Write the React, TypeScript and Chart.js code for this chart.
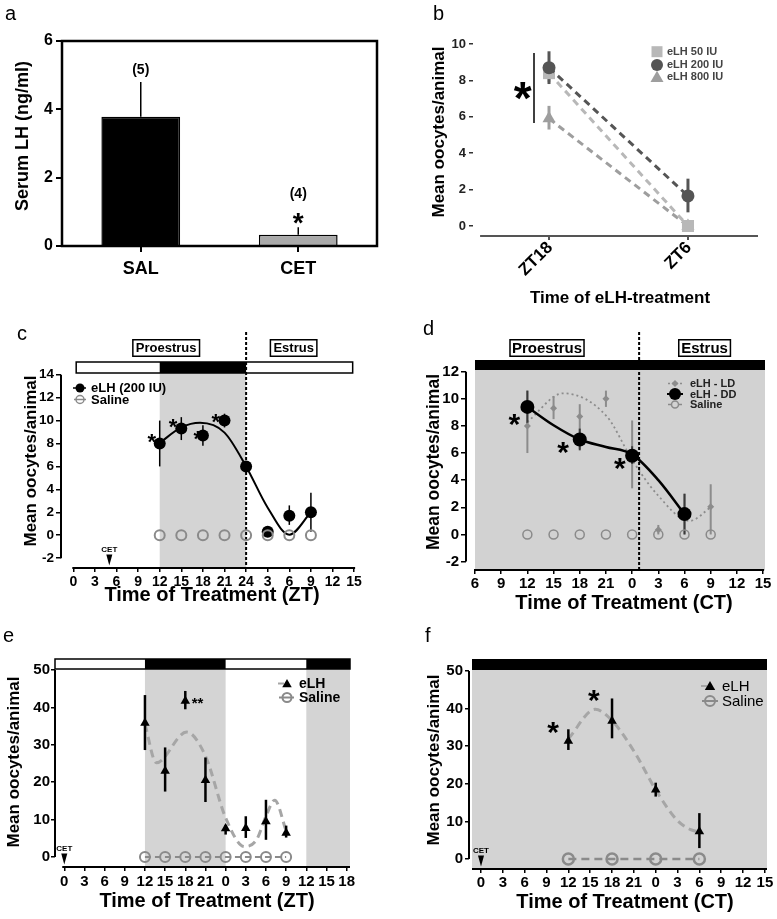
import React, { useEffect, useRef } from 'react';
import { Chart, registerables } from 'chart.js';

Chart.register(...registerables);

const FONT = '"Liberation Sans", Arial, Helvetica, sans-serif';
Chart.defaults.font.family = FONT;
const W = 777;
const H = 919;

// ================= DATA =================
// Panel a – serum LH
const A_CATEGORIES = ['SAL', 'CET'];
const A_VALUES = [3.78, 0.33];
const A_ERR_HIGH = [4.8, 0.55];
const A_N_LABELS = ['(5)', '(4)'];
const A_N_LABEL_Y = [5.15, 1.52];
const A_STAR_Y = 0.88;
const A_Y_TICKS = [0, 2, 4, 6];

// Panel b – dose response
const B_CATEGORIES = ['ZT18', 'ZT6'];
const B_POS = [0, 1];
const B_Y_TICKS = [0, 2, 4, 6, 8, 10];
const B_50 = [8.4, 0];
const B_50_LO = [7.9, 0];
const B_50_HI = [8.9, 0];
const B_200 = [8.7, 1.65];
const B_200_LO = [7.8, 0.75];
const B_200_HI = [9.6, 2.6];
const B_800 = [5.9, 0];
const B_800_LO = [5.3, 0];
const B_800_HI = [6.6, 0];
const B_LEGEND = ['eLH 50 IU', 'eLH 200 IU', 'eLH 800 IU'];
const B_STAR = { x: -0.19, y: 7.6 };
const B_BRACKET = { x: -0.108, y1: 9.5, y2: 5.66 };

// Panel c – ZT, eLH 200 IU
const C_X_TICKS = [0, 3, 6, 9, 12, 15, 18, 21, 24, 27, 30, 33, 36, 39];
const C_X_LABELS = ['0', '3', '6', '9', '12', '15', '18', '21', '24', '3', '6', '9', '12', '15'];
const C_Y_TICKS = [-2, 0, 2, 4, 6, 8, 10, 12, 14];
const C_X = [12, 15, 18, 21, 24, 27, 30, 33];
const C_ELH = [8, 9.3, 8.7, 10, 6, 0.3, 1.7, 2];
const C_ELH_LO = [6, 8.3, 7.8, 9.4, 6, 0.1, 0.9, 0.3];
const C_ELH_HI = [10, 10.3, 9.6, 10.6, 6, 0.5, 2.6, 3.7];
const C_SALINE = [0, 0, 0, 0, 0, 0, 0, 0];
const C_FIT_X = [12, 15, 17.6, 21, 24, 27, 30, 33];
const C_FIT_Y = [8.05, 9.4, 9.8, 8.95, 6.0, 2.4, 0.05, 2.0];
const C_STAR_X = [10.9, 13.85, 17.3, 19.8];
const C_STAR_Y = [8.6, 9.9, 8.9, 10.4];
const C_DARK = [12, 24];
const C_BAR = [0.4, 38.8];
const C_PHASE_X = [12.9, 30.6];
const C_DIVIDER = 24;
const C_CET_X = 5;

// Panel d – CT, LD vs DD
const D_X_TICKS = [6, 9, 12, 15, 18, 21, 24, 27, 30, 33, 36, 39];
const D_X_LABELS = ['6', '9', '12', '15', '18', '21', '0', '3', '6', '9', '12', '15'];
const D_Y_TICKS = [-2, 0, 2, 4, 6, 8, 10, 12];
const D_X = [12, 15, 18, 21, 24, 27, 30, 33];
const D_LD = [8, 9.3, 8.7, 10, 5.9, 0.35, 1.6, 2.05];
const D_LD_LO = [6, 8.5, 6.3, 9.4, 3.4, 0, 0, 0];
const D_LD_HI = [10.6, 10.2, 9.6, 10.6, 8.4, 0.7, 3, 3.7];
const D_DD_X = [12, 18, 24, 30];
const D_DD = [9.4, 7, 5.8, 1.5];
const D_DD_LO = [8.2, 6.2, 5.2, 0];
const D_DD_HI = [10.6, 7.8, 6.5, 3];
const D_SALINE = [0, 0, 0, 0, 0, 0, 0, 0];
const D_LD_FIT_X = [12, 16.1, 21.1, 24, 26.8, 30.6, 33];
const D_LD_FIT_Y = [8.3, 10.4, 8.7, 5.5, 3.0, 1.0, 2.0];
const D_DD_FIT_X = [12, 15, 18, 21, 24, 27, 30];
const D_DD_FIT_Y = [9.4, 8.05, 7.0, 6.45, 5.9, 4.0, 1.5];
const D_STAR_X = [10.5, 16.1, 22.6];
const D_STAR_Y = [8.7, 6.6, 5.45];
const D_PHASE_X = [14.25, 32.3];
const D_DIVIDER = 24.8;

// Panel e – ZT, triangles
const E_X_TICKS = [0, 3, 6, 9, 12, 15, 18, 21, 24, 27, 30, 33, 36, 39, 42];
const E_X_LABELS = ['0', '3', '6', '9', '12', '15', '18', '21', '0', '3', '6', '9', '12', '15', '18'];
const E_Y_TICKS = [0, 10, 20, 30, 40, 50];
const E_X = [12, 15, 18, 21, 24, 27, 30, 33];
const E_ELH = [35.8, 23, 41.7, 20.5, 7.6, 7.7, 9.5, 6.4];
const E_ELH_LO = [28.6, 17.5, 39.5, 14.7, 6, 5.1, 4.6, 5.2];
const E_ELH_HI = [43.3, 29.3, 44.4, 26.6, 8.6, 10.9, 15.3, 8.4];
const E_SALINE = [0, 0, 0, 0, 0, 0, 0, 0];
const E_FIT_X = [12, 13.7, 18.2, 21, 24, 26.8, 28.6, 30, 31.3, 33];
const E_FIT_Y = [35.5, 25.2, 33.4, 27, 10.5, 2.8, 4.6, 10.9, 15.2, 7];
const E_DARK = [[12, 24], [36, 42.5]];
const E_STAR = { x: 18.95, y: 42.0 };
const E_CET_X = 0;

// Panel f – CT, triangles
const F_X_TICKS = [0, 3, 6, 9, 12, 15, 18, 21, 24, 27, 30, 33, 36, 39];
const F_X_LABELS = ['0', '3', '6', '9', '12', '15', '18', '21', '0', '3', '6', '9', '12', '15'];
const F_Y_TICKS = [0, 10, 20, 30, 40, 50];
const F_X = [12, 18, 24, 30];
const F_ELH = [31.4, 36.7, 18.4, 7.3];
const F_ELH_LO = [29, 32.1, 16.6, 2.9];
const F_ELH_HI = [34.5, 42.7, 20.3, 12.2];
const F_SALINE = [0, 0, 0, 0];
const F_FIT_X = [12, 15.7, 18, 21.2, 24, 26.9, 28.8, 30];
const F_FIT_Y = [32, 39.8, 36.8, 28.1, 18.4, 10.4, 7.8, 7.2];
const F_STAR_X = [9.9, 15.5];
const F_STAR_Y = [35.6, 44.1];
const F_CET_X = 0;

// ================= HELPERS =================
function seg(ctx: any, x1: number, y1: number, x2: number, y2: number, color = '#000', width = 1.5, dash: number[] = []) {
  ctx.save();
  ctx.strokeStyle = color;
  ctx.lineWidth = width;
  ctx.setLineDash(dash);
  ctx.beginPath();
  ctx.moveTo(x1, y1);
  ctx.lineTo(x2, y2);
  ctx.stroke();
  ctx.restore();
}

function box(ctx: any, x1: number, y1: number, x2: number, y2: number, fill?: string, stroke?: string, lw = 1.5) {
  ctx.save();
  if (fill) {
    ctx.fillStyle = fill;
    ctx.fillRect(x1, y1, x2 - x1, y2 - y1);
  }
  if (stroke) {
    ctx.strokeStyle = stroke;
    ctx.lineWidth = lw;
    ctx.strokeRect(x1, y1, x2 - x1, y2 - y1);
  }
  ctx.restore();
}

function txt(ctx: any, s: string, x: number, y: number, size: number, o: any = {}) {
  ctx.save();
  ctx.font = `${o.weight ?? 'bold'} ${size}px ${FONT}`;
  ctx.fillStyle = o.color ?? '#000';
  ctx.textAlign = o.align ?? 'center';
  ctx.textBaseline = o.baseline ?? 'middle';
  ctx.translate(x, y);
  if (o.rot) ctx.rotate(o.rot);
  ctx.fillText(s, 0, 0);
  ctx.restore();
}

function star(ctx: any, s: string, x: number, y: number, size: number, align = 'center') {
  txt(ctx, s, x, y + size * 0.57, size, { baseline: 'alphabetic', align });
}

function letter(ctx: any, s: string, x: number, y: number) {
  txt(ctx, s, x, y, 20, { weight: 'normal', align: 'left', baseline: 'alphabetic' });
}

function marker(ctx: any, style: string, x: number, y: number, r: number, fill?: string, stroke?: string, lw = 1.5) {
  ctx.save();
  ctx.beginPath();
  if (style === 'circle') ctx.arc(x, y, r, 0, Math.PI * 2);
  else if (style === 'rect') ctx.rect(x - r, y - r, 2 * r, 2 * r);
  else if (style === 'diamond') {
    ctx.moveTo(x, y - r); ctx.lineTo(x + r, y); ctx.lineTo(x, y + r); ctx.lineTo(x - r, y); ctx.closePath();
  } else if (style === 'triangle') {
    ctx.moveTo(x, y - r); ctx.lineTo(x + r * 0.866, y + r / 2); ctx.lineTo(x - r * 0.866, y + r / 2); ctx.closePath();
  } else if (style === 'down') {
    ctx.moveTo(x - r * 0.55, y - r); ctx.lineTo(x + r * 0.55, y - r); ctx.lineTo(x, y + r); ctx.closePath();
  }
  if (fill) { ctx.fillStyle = fill; ctx.fill(); }
  if (stroke) { ctx.strokeStyle = stroke; ctx.lineWidth = lw; ctx.stroke(); }
  ctx.restore();
}

function phaseBox(ctx: any, label: string, cx: number, cy: number, size: number, padX: number, h: number) {
  ctx.save();
  ctx.font = `bold ${size}px ${FONT}`;
  const w = ctx.measureText(label).width + 2 * padX;
  ctx.restore();
  box(ctx, cx - w / 2, cy - h / 2, cx + w / 2, cy + h / 2, '#fff', '#000', 1.5);
  txt(ctx, label, cx, cy + 0.5, size);
}

function errBars(chart: any, xs: number[], lo: number[], hi: number[], color: string, width: number) {
  const { ctx } = chart;
  const sx = chart.scales.x;
  const sy = chart.scales.y;
  xs.forEach((xv, i) => {
    if (lo[i] === hi[i]) return;
    const px = sx.getPixelForValue(xv);
    seg(ctx, px, sy.getPixelForValue(lo[i]), px, sy.getPixelForValue(hi[i]), color, width);
  });
}

function cet(chart: any, xv: number, area: any) {
  const { ctx } = chart;
  const px = chart.scales.x.getPixelForValue(xv);
  txt(ctx, 'CET', px, area.b - 18, 8);
  marker(ctx, 'down', px, area.b - 8, 5.5, '#000');
}

type Area = { l: number; t: number; r: number; b: number };

function linAxis(kind: 'x' | 'y', area: Area, o: any) {
  return {
    type: 'linear',
    position: kind === 'x' ? 'bottom' : 'left',
    bounds: 'data',
    min: o.min,
    max: o.max,
    afterFit: (s: any) => {
      if (kind === 'x') s.height = H - area.b;
      else s.width = area.l;
    },
    afterBuildTicks: (s: any) => {
      s.ticks = o.ticks.map((v: number) => ({ value: v }));
    },
    grid: {
      display: true,
      drawOnChartArea: false,
      drawTicks: true,
      tickLength: o.tickLen ?? 5,
      color: o.tickColor ?? '#000',
      lineWidth: o.tickWidth ?? 1.5,
    },
    border: { display: false },
    ticks: {
      display: o.showLabels ?? true,
      autoSkip: false,
      maxRotation: 0,
      minRotation: 0,
      padding: o.pad ?? 2,
      color: o.color ?? '#000',
      font: { family: FONT, weight: 'bold', size: o.size ?? 14 },
      callback: (_v: any, i: number) => (o.labels ? o.labels[i] : String(o.ticks[i])),
    },
  };
}

function baseOpts(area: Area, scales: any) {
  return {
    responsive: false,
    animation: false,
    devicePixelRatio: 1,
    events: [],
    layout: { padding: { left: 0, top: area.t, right: W - area.r, bottom: 0 } },
    plugins: { legend: { display: false }, tooltip: { enabled: false }, title: { display: false } },
    scales,
  };
}

function pointsDs(xs: number[], ys: number[], o: any) {
  return {
    data: xs.map((x, i) => ({ x, y: ys[i] })),
    showLine: !!o.line,
    borderColor: o.lineColor ?? o.stroke ?? o.fill,
    borderWidth: o.lineWidth ?? 2,
    borderDash: o.dash ?? [],
    pointStyle: o.style ?? 'circle',
    pointRadius: o.r,
    pointRotation: o.rot ?? 0,
    pointBackgroundColor: o.fill ?? 'rgba(0,0,0,0)',
    pointBorderColor: o.stroke ?? o.fill,
    pointBorderWidth: o.lw ?? 0,
    clip: false,
    tension: 0,
  };
}

function curveDs(xs: number[], ys: number[], o: any) {
  return {
    data: xs.map((x, i) => ({ x, y: ys[i] })),
    showLine: true,
    pointRadius: 0,
    borderColor: o.color,
    borderWidth: o.width,
    borderDash: o.dash ?? [],
    cubicInterpolationMode: 'monotone',
    fill: false,
    clip: false,
  };
}

// ================= PANELS =================
function makeA() {
  const area = { l: 62, t: 41, r: 377, b: 246 };
  return {
    type: 'bar',
    data: {
      labels: A_CATEGORIES,
      datasets: [
        {
          data: A_VALUES,
          backgroundColor: ['#000000', '#a9a9a9'],
          borderColor: '#000',
          borderWidth: 1.5,
          barPercentage: 0.5,
          categoryPercentage: 1,
        },
      ],
    },
    options: baseOpts(area, {
      x: {
        type: 'category',
        offset: true,
        afterFit: (s: any) => { s.height = H - area.b; },
        grid: { display: true, offset: false, drawOnChartArea: false, tickLength: 6, color: '#000', lineWidth: 2 },
        border: { display: false },
        ticks: { padding: 6, color: '#000', font: { family: FONT, weight: 'bold', size: 18 } },
      },
      y: linAxis('y', area, { min: 0, max: 6, ticks: A_Y_TICKS, size: 16, tickLen: 6, pad: 3, tickWidth: 2 }),
    }),
    plugins: [
      {
        id: 'panelA',
        afterDatasetsDraw(chart: any) {
          const { ctx } = chart;
          const sx = chart.scales.x;
          const sy = chart.scales.y;
          box(ctx, area.l, area.t, area.r, area.b, undefined, '#000', 2.5);
          A_VALUES.forEach((v, i) => {
            const px = sx.getPixelForValue(i);
            seg(ctx, px, sy.getPixelForValue(v), px, sy.getPixelForValue(A_ERR_HIGH[i]), '#000', 1.5);
            txt(ctx, A_N_LABELS[i], px, sy.getPixelForValue(A_N_LABEL_Y[i]), 14);
          });
          star(ctx, '*', sx.getPixelForValue(1), sy.getPixelForValue(A_STAR_Y), 28);
          txt(ctx, 'Serum LH (ng/ml)', 23, 136, 18, { rot: -Math.PI / 2 });
          letter(ctx, 'a', 5, 20);
        },
      },
    ],
  };
}

function makeB() {
  const area = { l: 473, t: 44, r: 758, b: 236 };
  const dash = [7, 5];
  return {
    type: 'scatter',
    data: {
      datasets: [
        pointsDs(B_POS, B_200, { r: 6.5, fill: '#555555', line: true, lineColor: '#555555', lineWidth: 3, dash }),
        pointsDs(B_POS, B_50, { style: 'rect', r: 8.5, fill: '#b8b8b8', line: true, lineColor: '#b8b8b8', lineWidth: 3, dash }),
        pointsDs(B_POS, B_800, { style: 'triangle', r: 7.5, fill: '#9e9e9e', line: true, lineColor: '#9e9e9e', lineWidth: 3, dash }),
      ],
    },
    options: baseOpts(area, {
      x: linAxis('x', area, { min: -0.547, max: 1.504, ticks: B_POS, showLabels: false, tickColor: '#555', tickWidth: 2, tickLen: 4 }),
      y: linAxis('y', area, { min: -0.55, max: 10, ticks: B_Y_TICKS, size: 13, tickLen: 4, pad: 3, color: '#222', tickColor: '#333' }),
    }),
    plugins: [
      {
        id: 'panelB',
        beforeDatasetsDraw(chart: any) {
          errBars(chart, B_POS, B_800_LO, B_800_HI, '#9e9e9e', 3);
          errBars(chart, B_POS, B_50_LO, B_50_HI, '#b8b8b8', 3);
          errBars(chart, B_POS, B_200_LO, B_200_HI, '#555555', 3);
        },
        afterDatasetsDraw(chart: any) {
          const { ctx } = chart;
          const X = (v: number) => chart.scales.x.getPixelForValue(v);
          const Y = (v: number) => chart.scales.y.getPixelForValue(v);
          seg(ctx, X(-0.496), area.b, area.r, area.b, '#555', 2);
          B_CATEGORIES.forEach((c, i) => {
            txt(ctx, c, X(B_POS[i]) + 1, area.b + 9, 17, { align: 'right', rot: -Math.PI / 4 });
          });
          star(ctx, '*', X(B_STAR.x), Y(B_STAR.y), 46);
          seg(ctx, X(B_BRACKET.x), Y(B_BRACKET.y1), X(B_BRACKET.x), Y(B_BRACKET.y2), '#000', 1.5);
          // legend
          const rows = [51.7, 65, 77.3];
          marker(ctx, 'rect', 657, rows[0], 5.5, '#b8b8b8');
          marker(ctx, 'circle', 657, rows[1], 6, '#555555');
          marker(ctx, 'triangle', 657, rows[2] + 1, 7.5, '#9e9e9e');
          B_LEGEND.forEach((s, i) => txt(ctx, s, 667, rows[i], 11, { align: 'left', color: '#444' }));
          txt(ctx, 'Mean oocytes/animal', 439, 132, 17, { rot: -Math.PI / 2 });
          txt(ctx, 'Time of eLH-treatment', 620, 298, 17);
          letter(ctx, 'b', 433, 20);
        },
      },
    ],
  };
}

function makeC() {
  const area = { l: 61, t: 373, r: 358, b: 568 };
  return {
    type: 'scatter',
    data: {
      datasets: [
        pointsDs(C_X, C_SALINE, { r: 5, stroke: '#8a8a8a', lw: 2 }),
        pointsDs(C_X, C_ELH, { r: 6, fill: '#000' }),
        curveDs(C_FIT_X, C_FIT_Y, { color: '#000', width: 2 }),
      ],
    },
    options: baseOpts(area, {
      x: linAxis('x', area, { min: -1.71, max: 39.54, ticks: C_X_TICKS, labels: C_X_LABELS, size: 14, pad: 2, tickLen: 4 }),
      y: linAxis('y', area, { min: -2.86, max: 14.15, ticks: C_Y_TICKS, size: 13.5, pad: 2, tickLen: 5 }),
    }),
    plugins: [
      {
        id: 'panelC',
        beforeDatasetsDraw(chart: any) {
          const { ctx } = chart;
          const X = (v: number) => chart.scales.x.getPixelForValue(v);
          const Y = (v: number) => chart.scales.y.getPixelForValue(v);
          box(ctx, X(C_DARK[0]), area.t, X(C_DARK[1]), area.b, '#d4d4d4');
          box(ctx, X(C_BAR[0]), 362, X(C_BAR[1]), area.t, '#fff', '#000', 1.5);
          box(ctx, X(C_DARK[0]), 362, X(C_DARK[1]), area.t, '#000');
          phaseBox(ctx, 'Proestrus', X(C_PHASE_X[0]), 348, 13, 3, 16.5);
          phaseBox(ctx, 'Estrus', X(C_PHASE_X[1]), 348, 13, 3, 16.5);
          seg(ctx, X(C_DIVIDER), 332, X(C_DIVIDER), area.b, '#000', 2, [3, 2]);
          seg(ctx, area.l, Y(14), area.l, Y(-2), '#000', 2);
          seg(ctx, X(0) - 1, area.b, X(39) + 1, area.b, '#000', 2);
        },
        afterDatasetDraw(chart: any, args: any) {
          if (args.index === 2) errBars(chart, C_X, C_ELH_LO, C_ELH_HI, '#000', 1.5);
        },
        afterDatasetsDraw(chart: any) {
          const { ctx } = chart;
          const X = (v: number) => chart.scales.x.getPixelForValue(v);
          const Y = (v: number) => chart.scales.y.getPixelForValue(v);
          C_STAR_X.forEach((sx, i) => star(ctx, '*', X(sx), Y(C_STAR_Y[i]), 22));
          // legend
          seg(ctx, 73, 388, 86, 388, '#000', 1.5);
          marker(ctx, 'circle', 80, 388, 4.5, '#000');
          txt(ctx, 'eLH (200 IU)', 91, 388.5, 13, { align: 'left' });
          seg(ctx, 74, 399.5, 86, 399.5, '#8a8a8a', 1.5);
          marker(ctx, 'circle', 80, 399.5, 4, undefined, '#8a8a8a', 1.5);
          txt(ctx, 'Saline', 91, 400, 13, { align: 'left' });
          cet(chart, C_CET_X, area);
          txt(ctx, 'Mean oocytes/animal', 31, 461, 17, { rot: -Math.PI / 2 });
          txt(ctx, 'Time of Treatment (ZT)', 212, 595, 20);
          letter(ctx, 'c', 17, 340);
        },
      },
    ],
  };
}

function makeD() {
  const area = { l: 466, t: 370, r: 765, b: 570 };
  return {
    type: 'scatter',
    data: {
      datasets: [
        pointsDs(D_X, D_SALINE, { r: 4.5, stroke: '#8a8a8a', lw: 1.5 }),
        pointsDs(D_DD_X, D_DD, { r: 7, fill: '#000' }),
        pointsDs(D_X, D_LD, { style: 'rectRot', r: 3.5, fill: '#8c8c8c' }),
        curveDs(D_DD_FIT_X, D_DD_FIT_Y, { color: '#000', width: 2.5 }),
        curveDs(D_LD_FIT_X, D_LD_FIT_Y, { color: '#8c8c8c', width: 1.8, dash: [2, 3] }),
      ],
    },
    options: baseOpts(area, {
      x: linAxis('x', area, { min: 4.97, max: 39.22, ticks: D_X_TICKS, labels: D_X_LABELS, size: 15, pad: 1, tickLen: 4 }),
      y: linAxis('y', area, { min: -2.62, max: 12.12, ticks: D_Y_TICKS, size: 15, pad: 2, tickLen: 5 }),
    }),
    plugins: [
      {
        id: 'panelD',
        beforeDatasetsDraw(chart: any) {
          const { ctx } = chart;
          const X = (v: number) => chart.scales.x.getPixelForValue(v);
          const Y = (v: number) => chart.scales.y.getPixelForValue(v);
          box(ctx, X(6), area.t, area.r, area.b, '#d2d2d2');
          box(ctx, X(6), 360, area.r, area.t, '#000');
          phaseBox(ctx, 'Proestrus', X(D_PHASE_X[0]), 348, 15, 2, 16.5);
          phaseBox(ctx, 'Estrus', X(D_PHASE_X[1]), 348, 15, 2.5, 16.5);
          seg(ctx, X(D_DIVIDER), 332, X(D_DIVIDER), area.b, '#000', 2, [3, 2]);
          seg(ctx, area.l, Y(12), area.l, Y(-2), '#000', 2);
          seg(ctx, X(6) - 1, area.b, X(39) + 1, area.b, '#000', 2);
        },
        afterDatasetDraw(chart: any, args: any) {
          if (args.index === 3) {
            errBars(chart, D_X, D_LD_LO, D_LD_HI, '#8c8c8c', 2);
            errBars(chart, D_DD_X, D_DD_LO, D_DD_HI, '#3a3a3a', 2);
          }
        },
        afterDatasetsDraw(chart: any) {
          const { ctx } = chart;
          const X = (v: number) => chart.scales.x.getPixelForValue(v);
          const Y = (v: number) => chart.scales.y.getPixelForValue(v);
          D_STAR_X.forEach((sx, i) => star(ctx, '*', X(sx), Y(D_STAR_Y[i]), 30));
          // legend
          seg(ctx, 668, 383.5, 682, 383.5, '#8c8c8c', 1.5, [2, 2]);
          marker(ctx, 'diamond', 675, 383.5, 3.5, '#8c8c8c');
          txt(ctx, 'eLH - LD', 690, 384, 11, { align: 'left', color: '#222' });
          seg(ctx, 667, 394, 683, 394, '#000', 2);
          marker(ctx, 'circle', 675, 394, 6, '#000');
          txt(ctx, 'eLH - DD', 690, 394.5, 11, { align: 'left', color: '#222' });
          seg(ctx, 668, 404.5, 682, 404.5, '#8a8a8a', 1.5);
          marker(ctx, 'circle', 675, 404.5, 3.5, '#d2d2d2', '#8a8a8a', 1.5);
          txt(ctx, 'Saline', 690, 405, 11, { align: 'left', color: '#222' });
          txt(ctx, 'Mean oocytes/animal', 434, 462, 17.5, { rot: -Math.PI / 2 });
          txt(ctx, 'Time of Treatment (CT)', 624, 603, 20);
          letter(ctx, 'd', 423, 335);
        },
      },
    ],
  };
}

function makeE() {
  const area = { l: 55, t: 669, r: 350, b: 867 };
  return {
    type: 'scatter',
    data: {
      datasets: [
        pointsDs(E_X, E_SALINE, { r: 5, stroke: '#8a8a8a', lw: 2, line: true, lineColor: '#8a8a8a', lineWidth: 2, dash: [6, 4] }),
        pointsDs(E_X, E_ELH, { style: 'triangle', r: 5.5, fill: '#000' }),
        curveDs(E_FIT_X, E_FIT_Y, { color: '#a6a6a6', width: 3, dash: [8, 5] }),
      ],
    },
    options: baseOpts(area, {
      x: linAxis('x', area, { min: -1.38, max: 42.5, ticks: E_X_TICKS, labels: E_X_LABELS, size: 15, pad: 2, tickLen: 4 }),
      y: linAxis('y', area, { min: -2.67, max: 50.27, ticks: E_Y_TICKS, size: 15, pad: 1, tickLen: 4 }),
    }),
    plugins: [
      {
        id: 'panelE',
        beforeDatasetsDraw(chart: any) {
          const { ctx } = chart;
          const X = (v: number) => Math.min(chart.scales.x.getPixelForValue(v), area.r);
          const Y = (v: number) => chart.scales.y.getPixelForValue(v);
          E_DARK.forEach(([a, b]) => box(ctx, X(a), area.t, X(b), area.b, '#d4d4d4'));
          box(ctx, area.l, 659, area.r, area.t, '#fff', '#000', 1.5);
          E_DARK.forEach(([a, b]) => box(ctx, X(a), 659, X(b), area.t, '#000'));
          seg(ctx, area.l, Y(50), area.l, Y(0), '#000', 2);
          seg(ctx, X(-0.3), area.b, area.r, area.b, '#000', 2);
        },
        afterDatasetDraw(chart: any, args: any) {
          if (args.index === 2) errBars(chart, E_X, E_ELH_LO, E_ELH_HI, '#000', 2.5);
        },
        afterDatasetsDraw(chart: any) {
          const { ctx } = chart;
          const X = (v: number) => chart.scales.x.getPixelForValue(v);
          const Y = (v: number) => chart.scales.y.getPixelForValue(v);
          star(ctx, '**', X(E_STAR.x), Y(E_STAR.y), 15, 'left');
          // legend
          seg(ctx, 278, 683.5, 284, 683.5, '#a6a6a6', 2);
          marker(ctx, 'triangle', 287, 684.5, 5.5, '#000');
          txt(ctx, 'eLH', 299, 684, 14, { align: 'left' });
          seg(ctx, 279, 697.5, 294, 697.5, '#8a8a8a', 2);
          marker(ctx, 'circle', 287, 697.5, 4.5, undefined, '#8a8a8a', 2);
          txt(ctx, 'Saline', 299, 698, 14, { align: 'left' });
          cet(chart, E_CET_X, area);
          txt(ctx, 'Mean oocytes/animal', 14, 762, 17, { rot: -Math.PI / 2 });
          txt(ctx, 'Time of Treatment (ZT)', 207, 901, 20);
          letter(ctx, 'e', 3, 642);
        },
      },
    ],
  };
}

function makeF() {
  const area = { l: 469, t: 670, r: 767, b: 869 };
  return {
    type: 'scatter',
    data: {
      datasets: [
        pointsDs(F_X, F_SALINE, { r: 5.5, stroke: '#8a8a8a', lw: 2.5, line: true, lineColor: '#8a8a8a', lineWidth: 2.5, dash: [8, 5] }),
        pointsDs(F_X, F_ELH, { style: 'triangle', r: 5.5, fill: '#000' }),
        curveDs(F_FIT_X, F_FIT_Y, { color: '#a6a6a6', width: 3, dash: [8, 5] }),
      ],
    },
    options: baseOpts(area, {
      x: linAxis('x', area, { min: -1.65, max: 39.29, ticks: F_X_TICKS, labels: F_X_LABELS, size: 15, pad: 1, tickLen: 4 }),
      y: linAxis('y', area, { min: -2.66, max: 50.27, ticks: F_Y_TICKS, size: 15, pad: 2, tickLen: 4 }),
    }),
    plugins: [
      {
        id: 'panelF',
        beforeDatasetsDraw(chart: any) {
          const { ctx } = chart;
          const Y = (v: number) => chart.scales.y.getPixelForValue(v);
          box(ctx, area.l + 3, area.t, area.r, area.b, '#d3d3d3');
          box(ctx, area.l + 3, 659, area.r, area.t, '#000');
          seg(ctx, area.l, Y(50), area.l, Y(0), '#000', 2);
          seg(ctx, area.l + 3, area.b, area.r, area.b, '#000', 2);
        },
        afterDatasetDraw(chart: any, args: any) {
          if (args.index === 2) errBars(chart, F_X, F_ELH_LO, F_ELH_HI, '#000', 2.5);
        },
        afterDatasetsDraw(chart: any) {
          const { ctx } = chart;
          const X = (v: number) => chart.scales.x.getPixelForValue(v);
          const Y = (v: number) => chart.scales.y.getPixelForValue(v);
          F_STAR_X.forEach((sx, i) => star(ctx, '*', X(sx), Y(F_STAR_Y[i]), 30));
          // legend
          seg(ctx, 701, 686, 707, 686, '#a6a6a6', 2);
          marker(ctx, 'triangle', 710, 687, 6, '#000');
          txt(ctx, 'eLH', 722, 686.5, 15, { align: 'left', weight: 'normal' });
          seg(ctx, 702, 701, 718, 701, '#8a8a8a', 2);
          marker(ctx, 'circle', 710, 701, 5, undefined, '#8a8a8a', 2);
          txt(ctx, 'Saline', 722, 701.5, 15, { align: 'left', weight: 'normal' });
          cet(chart, F_CET_X, area);
          txt(ctx, 'Mean oocytes/animal', 434, 760, 17, { rot: -Math.PI / 2 });
          txt(ctx, 'Time of Treatment (CT)', 625, 902, 20);
          letter(ctx, 'f', 425, 642);
        },
      },
    ],
  };
}

// ================= COMPONENTS =================
function ChartCanvas({ make }: { make: () => any }) {
  const ref = useRef<HTMLCanvasElement | null>(null);
  useEffect(() => {
    const chart = new Chart(ref.current as HTMLCanvasElement, make());
    return () => chart.destroy();
  }, [make]);
  return (
    <canvas
      ref={ref}
      width={W}
      height={H}
      style={{ position: 'absolute', left: 0, top: 0, width: W, height: H }}
    />
  );
}

const PANELS = [makeA, makeB, makeC, makeD, makeE, makeF];

export default function App() {
  return (
    <div style={{ position: 'absolute', left: 0, top: 0, width: W, height: H, background: '#fff', overflow: 'hidden' }}>
      {PANELS.map((mk, i) => (
        <ChartCanvas key={i} make={mk} />
      ))}
    </div>
  );
}
